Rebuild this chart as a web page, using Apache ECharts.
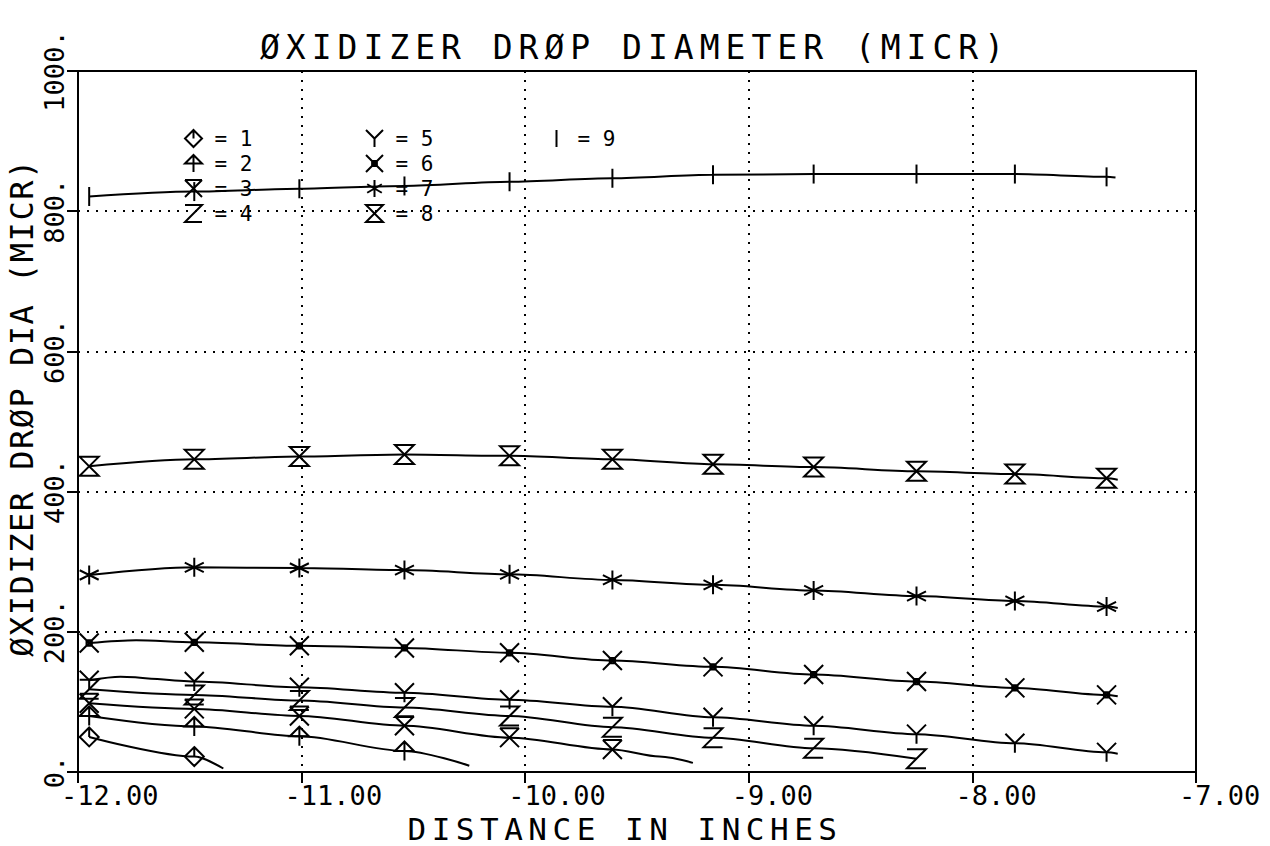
<!DOCTYPE html>
<html><head><meta charset="utf-8">
<script src="https://cdn.jsdelivr.net/npm/echarts@6/dist/echarts.min.js"></script>
<style>
html,body{margin:0;padding:0;background:#fff;}
#chart{width:1270px;height:846px;}
#chart text[style*="33px"]{letter-spacing:6px;}
#chart text[style*="31px"]{letter-spacing:5.5px;}
#chart text[style*="32px"]{letter-spacing:1.5px;}
</style></head><body><div id="chart"></div>
<script>
// ---- data ----
const titleText = 'ØXIDIZER DRØP DIAMETER (MICR)';
const xAxisName = 'DISTANCE IN INCHES';
const yAxisName = 'ØXIDIZER DRØP DIA (MICR)';
const seriesNames = ['1','2','3','4','5','6','7','8','9'];
// x positions of the marked points (inches)
const xPositions = [-11.95, -11.48, -11.01, -10.54, -10.07, -9.61, -9.16, -8.71, -8.25, -7.81, -7.40];
// drop diameters at the marked points (micron)
const series1 = [50, 22];
const series2 = [80, 65, 51, 30];
const series3 = [98, 90, 80, 66, 49, 32];
const series4 = [118, 110, 102, 92, 80, 64, 49, 34, 19];
const series5 = [131, 129, 121, 113, 103, 93, 78, 66, 54, 41, 28];
const series6 = [184, 185, 180, 177, 170, 159, 150, 139, 129, 120, 110];
const series7 = [281, 292, 291, 288, 282, 274, 267, 259, 251, 244, 236];
const series8 = [436, 446, 450, 453, 451, 446, 439, 435, 429, 425, 419];
const series9 = [821, 828, 832, 836, 842, 847, 852, 853, 853, 853, 849];
// unmarked curve points (peaks / curve ends) [x, value]
const extra1 = [[-11.35, 5]];
const extra2 = [[-10.25, 9]];
const extra3 = [[-9.40, 22], [-9.25, 13]];
const extra4 = [];
const extra5 = [[-11.81, 136], [-7.35, 26]];
const extra6 = [[-11.74, 188], [-7.35, 108]];
const extra7 = [[-7.35, 234]];
const extra8 = [[-7.35, 417]];
const extra9 = [[-7.36, 848]];
const yTickLabels = ['0.', '200.', '400.', '600.', '800.', '1000.'];

// ---- marker shapes ----
const markerShapes = [
  'path://M5,0 L10,5 L5,10 L0,5 Z M5,0 L5,5',
  'path://M0,5 L5,0 L10,5 Z M5,0 L5,10',
  'path://M0,0 L10,0 M0,0 L10,10 M10,0 L0,10',
  'path://M0,0 L10,0 L0,10 L10,10',
  'path://M0,0 L5,5 L10,0 M5,5 L5,10',
  'path://M0,0 L10,10 M10,0 L0,10 M3.6,3.6 L6.4,3.6 L6.4,6.4 L3.6,6.4 Z',
  'path://M5,0 L5,10 M0.7,2.5 L9.3,7.5 M9.3,2.5 L0.7,7.5',
  'path://M0,0 L10,0 L0,10 L10,10 Z',
  'path://M0,0 M10,10 M5,0 L5,10'
];

const allValues = [series1, series2, series3, series4, series5, series6, series7, series8, series9];
const allExtras = [extra1, extra2, extra3, extra4, extra5, extra6, extra7, extra8, extra9];
const FONT = 'DejaVu Sans Mono';

function buildSeries(i) {
  const pts = allValues[i].map((v, k) => ({ value: [xPositions[k], v] }));
  allExtras[i].forEach(p => pts.push({ value: p, symbol: 'none' }));
  pts.sort((a, b) => a.value[0] - b.value[0]);
  return {
    name: seriesNames[i], type: 'line', data: pts,
    symbol: markerShapes[i], symbolSize: 19, showAllSymbol: true,
    smooth: 0.3, smoothMonotone: 'x',
    lineStyle: { color: '#000', width: 2 },
    itemStyle: { color: 'rgba(0,0,0,0)', borderColor: '#000', borderWidth: 2 },
    emphasis: { disabled: true }, animation: false, z: 3
  };
}

function legendFor(idxs, left) {
  return {
    orient: 'vertical', left: left, top: 123, itemWidth: 22, itemHeight: 17, itemGap: 4,
    selectedMode: false,
    data: idxs.map(i => ({ name: seriesNames[i], icon: markerShapes[i] })),
    formatter: '= {name}',
    itemStyle: { color: 'rgba(0,0,0,0)', borderColor: '#000', borderWidth: 2 },
    textStyle: { fontFamily: FONT, fontSize: 21, color: '#000', padding: [0, 0, 0, 5] }
  };
}

const chart = echarts.init(document.getElementById('chart'), null, { renderer: 'svg' });
chart.setOption({
  animation: false,
  backgroundColor: '#fff',
  title: {
    text: titleText, left: 'center', top: 26,
    textStyle: { fontFamily: FONT, fontSize: 33, fontWeight: 'normal', color: '#000' }
  },
  legend: [legendFor([0,1,2,3], 179), legendFor([4,5,6,7], 360), legendFor([8], 542)],
  grid: { left: 78, right: 74, top: 71, bottom: 74, outerBoundsMode: 'none', containLabel: false,
          show: true, borderColor: '#000', borderWidth: 2, backgroundColor: '#fff' },
  xAxis: {
    type: 'value', min: -12, max: -7, interval: 1,
    name: xAxisName, nameLocation: 'middle', nameGap: 36,
    nameTextStyle: { fontFamily: FONT, fontSize: 31, color: '#000', padding: [0, 24, 0, 0] },
    axisLine: { show: true, lineStyle: { color: '#000', width: 2 } },
    axisTick: { show: true, inside: false, length: 11, lineStyle: { color: '#000', width: 2 } },
    axisLabel: {
      formatter: v => v.toFixed(2), fontFamily: FONT, fontSize: 27, color: '#000',
      margin: 10, align: 'left', padding: [0, 0, 0, -17]
    },
    splitLine: { show: true, lineStyle: { color: '#000', width: 2, type: [2, 7] } }
  },
  yAxis: {
    type: 'value', min: 0, max: 1000, interval: 200,
    name: yAxisName, nameLocation: 'middle', nameGap: 40, nameRotate: 90, nameMoveOverlap: false,
    nameTextStyle: { fontFamily: FONT, fontSize: 32, color: '#000', padding: [0, 0, 0, 28] },
    axisLine: { show: true, lineStyle: { color: '#000', width: 2 } },
    axisTick: { show: true, inside: false, length: 11, lineStyle: { color: '#000', width: 2 } },
    axisLabel: {
      formatter: v => yTickLabels[Math.round(v / 200)], rotate: 90,
      fontFamily: FONT, fontSize: 27, color: '#000', margin: 10
    },
    splitLine: { show: true, lineStyle: { color: '#000', width: 2, type: [2, 7] } }
  },
  series: seriesNames.map((_, i) => buildSeries(i))
});
</script></body></html>
